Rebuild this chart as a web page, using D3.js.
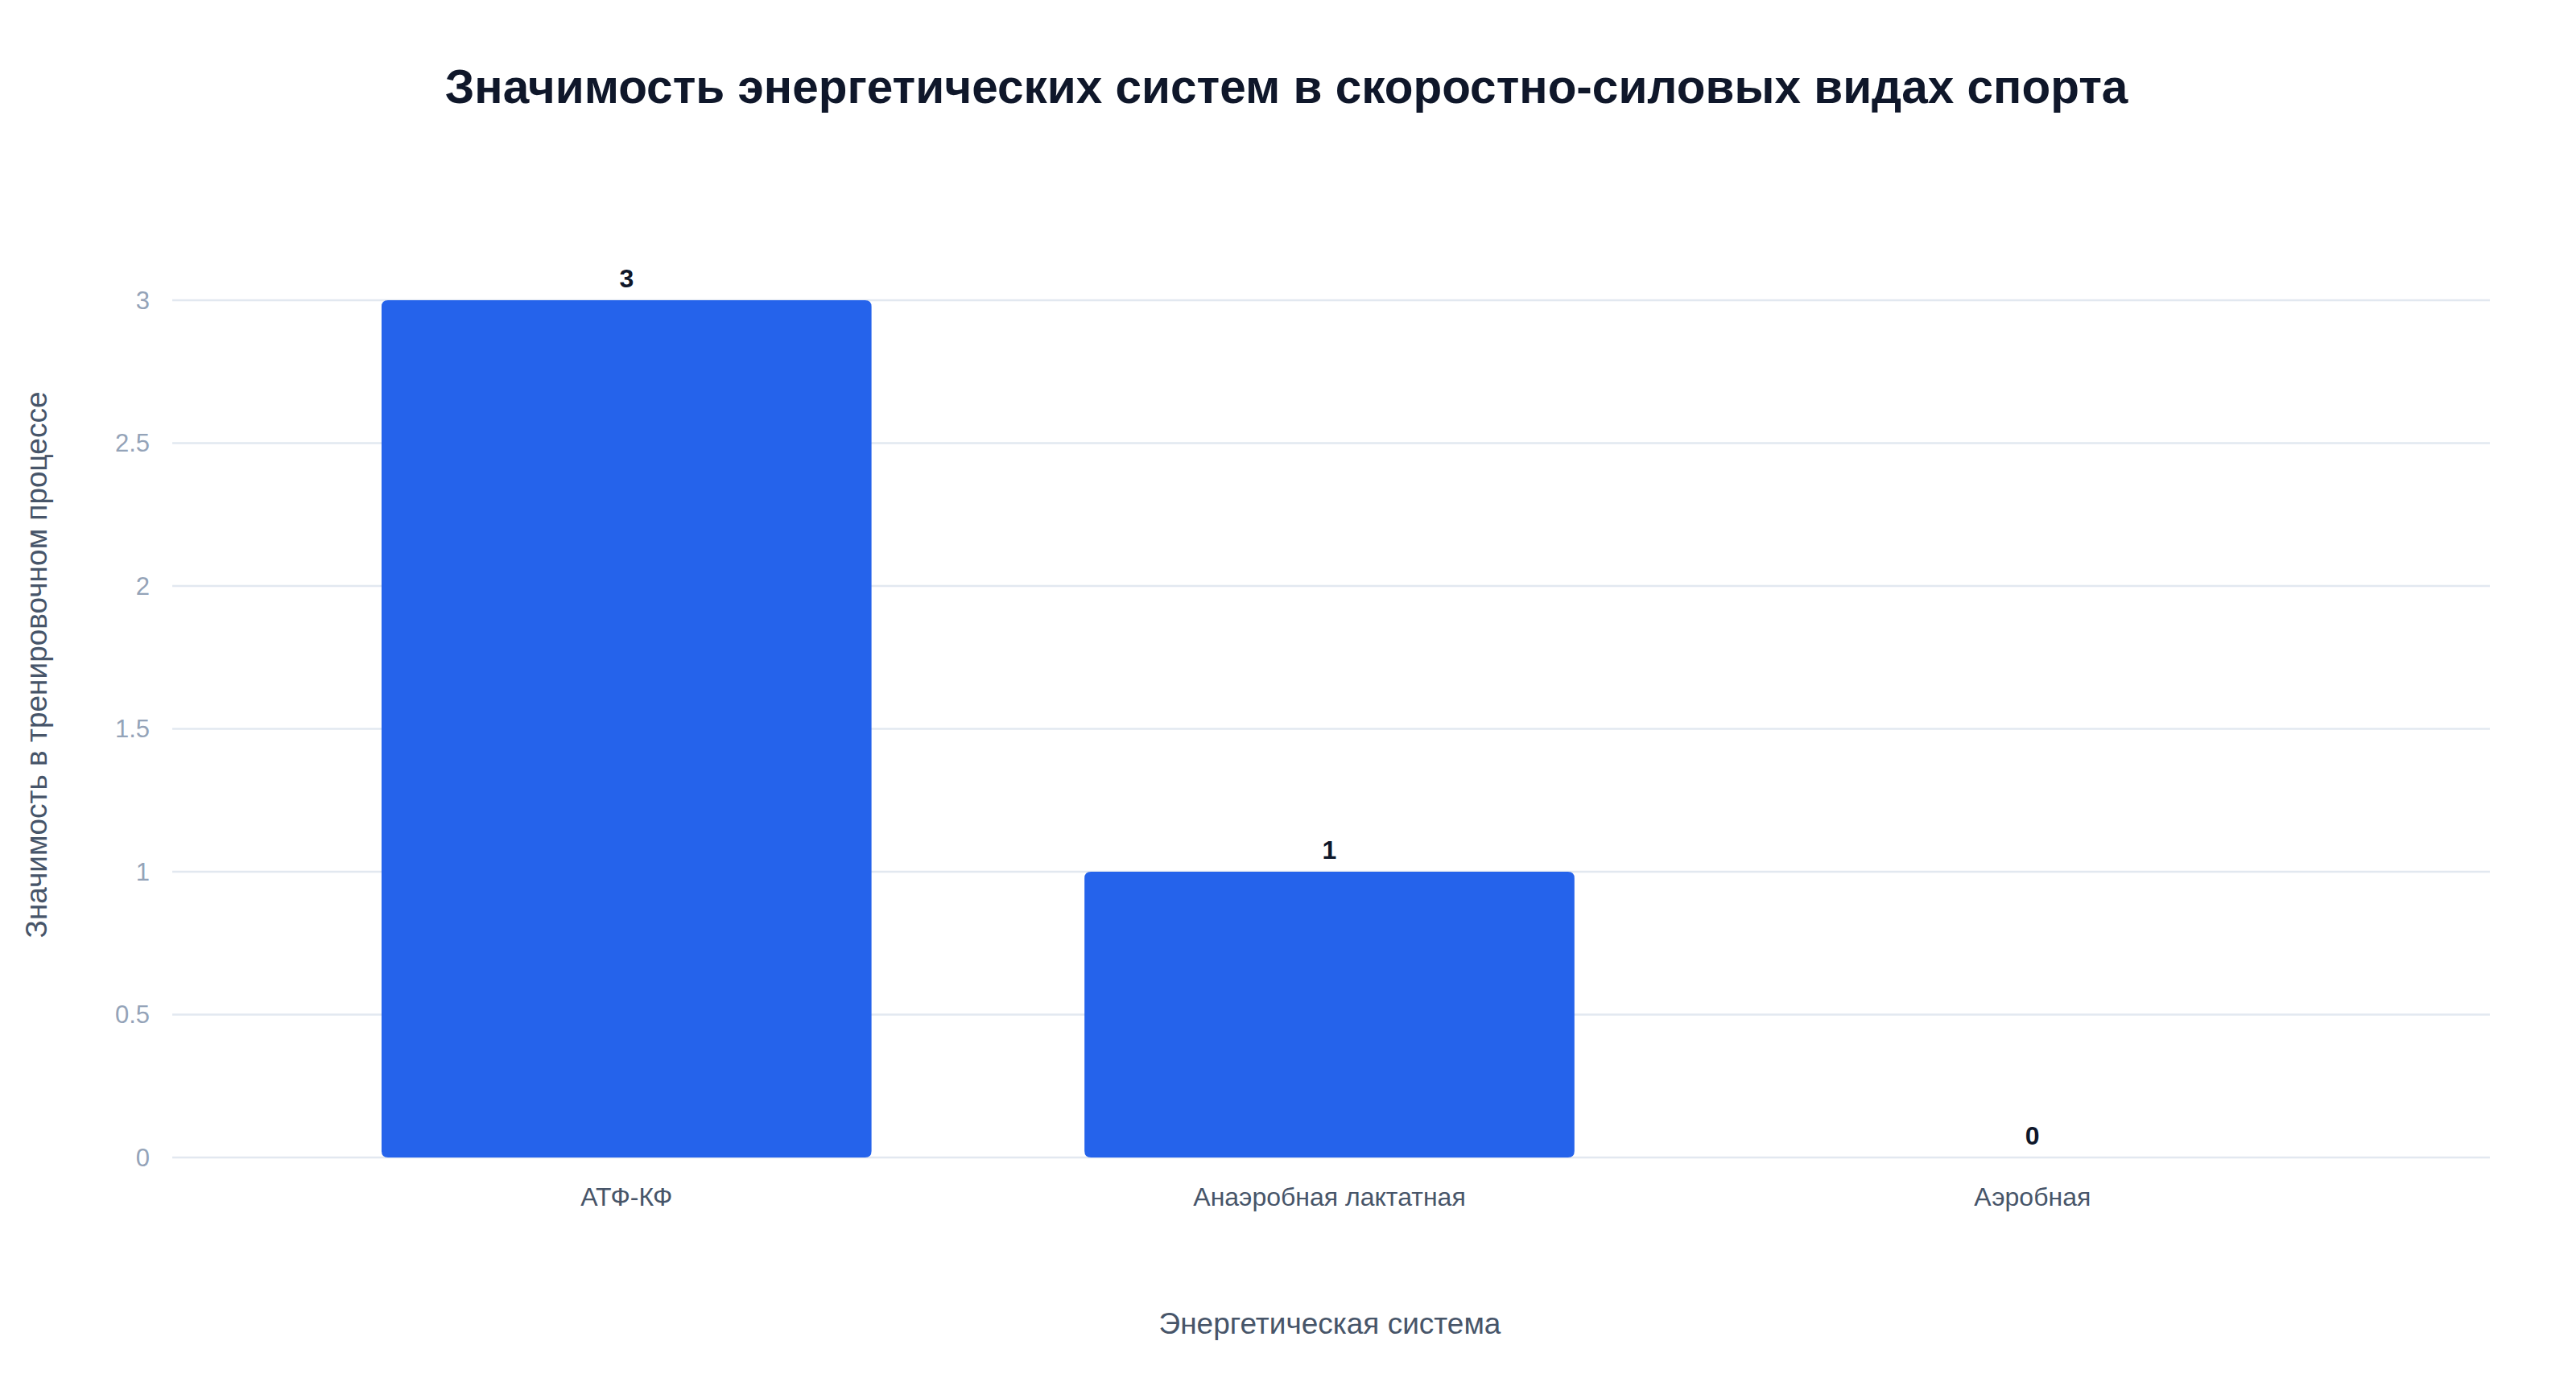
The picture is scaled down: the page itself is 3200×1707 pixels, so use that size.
<!DOCTYPE html>
<html>
<head>
<meta charset="utf-8">
<script src="https://cdn.jsdelivr.net/npm/d3@7.9.0/dist/d3.min.js"></script>
<style>
  body { margin: 0; background: #fff; }
  svg { font-family: "Liberation Sans", Arial, sans-serif; }
</style>
</head>
<body>
<svg id="chart" width="3200" height="1707"></svg>
<script>
// data
const categories = ['АТФ-КФ', 'Анаэробная лактатная', 'Аэробная'];
const values = [3, 1, 0];
const yTicks = [0, 0.5, 1, 1.5, 2, 2.5, 3];

const svg = d3.select('#chart');
const margin = { top: 373, right: 107, bottom: 269, left: 214 };
const width = 3200 - margin.left - margin.right;
const height = 1707 - margin.top - margin.bottom;

const g = svg.append('g').attr('transform', `translate(${margin.left},${margin.top})`);

// bands sit a little inside the gridlines, like the original
const x = d3.scaleBand().domain(categories).range([129, 2746]).paddingInner(0.303).paddingOuter(0.15);
const y = d3.scaleLinear().domain([0, 3]).range([height, 0]);

// gridlines
g.selectAll('.grid')
  .data(yTicks)
  .enter()
  .append('line')
  .attr('x1', 0).attr('x2', width)
  .attr('y1', d => y(d)).attr('y2', d => y(d))
  .attr('stroke', '#e2e8f0').attr('stroke-width', 2.5);

// y tick labels
g.selectAll('.ytick')
  .data(yTicks)
  .enter()
  .append('text')
  .attr('x', -28).attr('y', d => y(d))
  .attr('dy', '0.35em')
  .attr('text-anchor', 'end')
  .attr('fill', '#94a3b8')
  .attr('font-size', 31)
  .text(d => d);

// bars
g.selectAll('.bar')
  .data(values)
  .enter()
  .append('path')
  .attr('fill', '#2563eb')
  .attr('d', (d, i) => {
    const x0 = x(categories[i]), w = x.bandwidth();
    const y0 = y(d), h = height - y0, r = Math.min(8, h / 2);
    if (h <= 0) return '';
    return `M${x0},${height}V${y0 + r}Q${x0},${y0} ${x0 + r},${y0}H${x0 + w - r}Q${x0 + w},${y0} ${x0 + w},${y0 + r}V${height - r}Q${x0 + w},${height} ${x0 + w - r},${height}H${x0 + r}Q${x0},${height} ${x0},${height - r}Z`;
  });

// value labels
g.selectAll('.val')
  .data(values)
  .enter()
  .append('text')
  .attr('x', (d, i) => x(categories[i]) + x.bandwidth() / 2)
  .attr('y', d => y(d) - 16)
  .attr('text-anchor', 'middle')
  .attr('font-size', 32).attr('font-weight', 'bold')
  .attr('fill', '#0f172a')
  .text(d => d);

// category labels
g.selectAll('.xtick')
  .data(categories)
  .enter()
  .append('text')
  .attr('x', d => x(d) + x.bandwidth() / 2)
  .attr('y', height + 60)
  .attr('text-anchor', 'middle')
  .attr('font-size', 32)
  .attr('fill', '#475569')
  .text(d => d);

// title
svg.append('text')
  .attr('x', 1598).attr('y', 128)
  .attr('text-anchor', 'middle')
  .attr('font-size', 58.5).attr('font-weight', 'bold')
  .attr('fill', '#0f172a')
  .text('Значимость энергетических систем в скоростно-силовых видах спорта');

// axis titles
svg.append('text')
  .attr('x', 1652).attr('y', 1657)
  .attr('text-anchor', 'middle')
  .attr('font-size', 37).attr('fill', '#475569')
  .text('Энергетическая система');

svg.append('text')
  .attr('transform', 'translate(58,826) rotate(-90)')
  .attr('text-anchor', 'middle')
  .attr('font-size', 37).attr('fill', '#475569')
  .text('Значимость в тренировочном процессе');
</script>
</body>
</html>
